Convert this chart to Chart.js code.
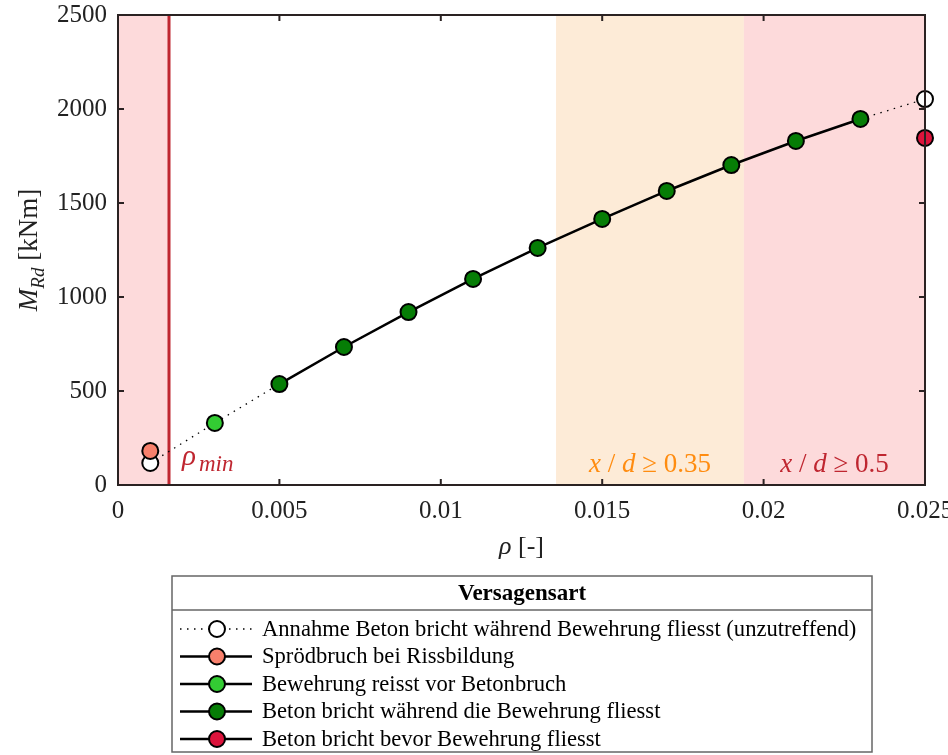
<!DOCTYPE html>
<html>
<head>
<meta charset="utf-8">
<script src="https://cdn.jsdelivr.net/npm/chart.js@4.4.0/dist/chart.umd.min.js"></script>
<style>
  html, body { margin: 0; padding: 0; background: #fff; }
  #wrap { width: 948px; height: 755px; position: relative; }
</style>
</head>
<body>
<div id="wrap"><canvas id="mrdChart"></canvas></div>
<script>
// reinforcement ratio rho [-] and moment resistance M_Rd [kNm]
const rhoAll = [0.001, 0.003, 0.005, 0.007, 0.009, 0.011, 0.013, 0.015, 0.017, 0.019, 0.021, 0.023, 0.025];
const mAssumed = [117, 330, 537, 734, 920, 1096, 1261, 1415, 1564, 1702, 1830, 1947, 2053];
const rhoYield = [0.005, 0.007, 0.009, 0.011, 0.013, 0.015, 0.017, 0.019, 0.021, 0.023];
const mYield = [537, 734, 920, 1096, 1261, 1415, 1564, 1702, 1830, 1947];
const rhoBrittle = [0.001];
const mBrittle = [181];
const rhoRupture = [0.003];
const mRupture = [330];
const rhoCrush = [0.025];
const mCrush = [1846];

const xTicks = [0, 0.005, 0.01, 0.015, 0.02, 0.025];
const yTicks = [0, 500, 1000, 1500, 2000, 2500];

// zones on the rho axis
const rhoMin = 0.00158;
const zone035 = [0.01357, 0.01939];
const zone05 = [0.01939, 0.025];

const serif = '"Liberation Serif", "Times New Roman", serif';
const frameColor = '#2a2222';
const red = '#bf2630';
const orange = '#ff8c10';

function pts(xs, ys) { return xs.map((x, i) => ({ x: x, y: ys[i] })); }

const pointStyle = (fill, r) => ({
  showLine: true,
  clip: false,
  pointRadius: r,
  pointHoverRadius: r,
  pointBackgroundColor: fill,
  pointBorderColor: '#000',
  pointBorderWidth: 2,
  borderColor: '#000',
  borderWidth: 2.5
});

const datasets = [
  Object.assign(pointStyle('#ffffff', rhoAll.map((x, i) => (i === 0 || i === rhoAll.length - 1) ? 8 : 0)), {
    label: 'Annahme Beton bricht während Bewehrung fliesst (unzutreffend)',
    data: pts(rhoAll, mAssumed),
    borderWidth: 1.3,
    borderDash: [1.5, 5.5],
    order: 5
  }),
  Object.assign(pointStyle('#f8806c', 8), {
    label: 'Sprödbruch bei Rissbildung',
    data: pts(rhoBrittle, mBrittle),
    order: 1
  }),
  Object.assign(pointStyle('#33cc33', 8), {
    label: 'Bewehrung reisst vor Betonbruch',
    data: pts(rhoRupture, mRupture),
    order: 1
  }),
  Object.assign(pointStyle('#067d06', 8), {
    label: 'Beton bricht während die Bewehrung fliesst',
    data: pts(rhoYield, mYield),
    order: 2
  }),
  Object.assign(pointStyle('#dc143c', 8), {
    label: 'Beton bricht bevor Bewehrung fliesst',
    data: pts(rhoCrush, mCrush),
    order: 1
  })
];

const zonesPlugin = {
  id: 'zones',
  beforeDatasetsDraw(chart) {
    const { ctx, chartArea: a, scales: { x } } = chart;
    ctx.save();
    ctx.fillStyle = '#fddadb';
    ctx.fillRect(a.left, a.top, x.getPixelForValue(rhoMin) - a.left, a.bottom - a.top);
    ctx.fillStyle = '#fdebd7';
    ctx.fillRect(x.getPixelForValue(zone035[0]), a.top, x.getPixelForValue(zone035[1]) - x.getPixelForValue(zone035[0]), a.bottom - a.top);
    ctx.fillStyle = '#fddadb';
    ctx.fillRect(x.getPixelForValue(zone05[0]), a.top, x.getPixelForValue(zone05[1]) - x.getPixelForValue(zone05[0]), a.bottom - a.top);
    // rho_min line
    ctx.strokeStyle = red;
    ctx.lineWidth = 3;
    ctx.beginPath();
    const xm = x.getPixelForValue(rhoMin);
    ctx.moveTo(xm, a.top);
    ctx.lineTo(xm, a.bottom);
    ctx.stroke();

    // zone labels
    ctx.textBaseline = 'alphabetic';
    ctx.fillStyle = red;
    ctx.font = 'italic 29px ' + serif;
    ctx.textAlign = 'left';
    ctx.fillText('ρ', xm + 13, a.bottom - 20);
    ctx.font = 'italic 23px ' + serif;
    ctx.fillText('min', xm + 30, a.bottom - 14);

    drawXd(ctx, (x.getPixelForValue(zone035[0]) + x.getPixelForValue(zone035[1])) / 2, a.bottom - 13, '0.35', orange);
    drawXd(ctx, (x.getPixelForValue(zone05[0]) + x.getPixelForValue(zone05[1])) / 2, a.bottom - 13, '0.5', red);
    ctx.restore();
  },
  afterDraw(chart) {
    const { ctx, chartArea: a, scales: { x, y } } = chart;
    ctx.save();
    ctx.strokeStyle = frameColor;
    ctx.lineWidth = 2;
    ctx.strokeRect(a.left, a.top, a.right - a.left, a.bottom - a.top);
    ctx.beginPath();
    xTicks.forEach(v => {
      const px = x.getPixelForValue(v);
      ctx.moveTo(px, a.bottom); ctx.lineTo(px, a.bottom - 6);
      ctx.moveTo(px, a.top); ctx.lineTo(px, a.top + 6);
    });
    yTicks.forEach(v => {
      const py = y.getPixelForValue(v);
      ctx.moveTo(a.left, py); ctx.lineTo(a.left + 6, py);
      ctx.moveTo(a.right, py); ctx.lineTo(a.right - 6, py);
    });
    ctx.stroke();

    // axis titles
    ctx.fillStyle = '#222';
    ctx.textBaseline = 'alphabetic';
    ctx.font = 'italic 26px ' + serif;
    const rw = ctx.measureText('ρ ').width;
    ctx.font = '26px ' + serif;
    const bw = ctx.measureText('[-]').width;
    let sx = (a.left + a.right) / 2 - (rw + bw) / 2;
    ctx.textAlign = 'left';
    ctx.font = 'italic 26px ' + serif;
    ctx.fillText('ρ ', sx, 554);
    ctx.font = '26px ' + serif;
    ctx.fillText('[-]', sx + rw, 554);

    ctx.save();
    ctx.translate(37, (a.top + a.bottom) / 2);
    ctx.rotate(-Math.PI / 2);
    ctx.font = 'italic 27px ' + serif;
    const mw = ctx.measureText('M').width;
    ctx.font = 'italic 19px ' + serif;
    const sw = ctx.measureText('Rd').width;
    ctx.font = '27px ' + serif;
    const kw = ctx.measureText(' [kNm]').width;
    let tx = -(mw + sw + kw) / 2;
    ctx.font = 'italic 27px ' + serif;
    ctx.fillText('M', tx, 0);
    ctx.font = 'italic 19px ' + serif;
    ctx.fillText('Rd', tx + mw, 7);
    ctx.font = '27px ' + serif;
    ctx.fillText(' [kNm]', tx + mw + sw, 0);
    ctx.restore();

    drawLegend(chart);
    ctx.restore();
  }
};

function drawXd(ctx, cx, by, val, color) {
  const parts = [['x', true], [' / ', false], ['d', true], [' ≥ ' + val, false]];
  let w = 0;
  parts.forEach(p => { ctx.font = (p[1] ? 'italic ' : '') + '27px ' + serif; w += ctx.measureText(p[0]).width; });
  let px = cx - w / 2;
  ctx.fillStyle = color;
  ctx.textAlign = 'left';
  parts.forEach(p => {
    ctx.font = (p[1] ? 'italic ' : '') + '27px ' + serif;
    ctx.fillText(p[0], px, by);
    px += ctx.measureText(p[0]).width;
  });
}

function drawLegend(chart) {
  const ctx = chart.ctx;
  const L = 172, T = 576, R = 872, B = 752, sep = 610;
  ctx.save();
  ctx.fillStyle = '#fff';
  ctx.fillRect(L, T, R - L, B - T);
  ctx.strokeStyle = '#666';
  ctx.lineWidth = 1.5;
  ctx.strokeRect(L, T, R - L, B - T);
  ctx.beginPath(); ctx.moveTo(L, sep); ctx.lineTo(R, sep); ctx.stroke();
  ctx.fillStyle = '#000';
  ctx.font = 'bold 23px ' + serif;
  ctx.textAlign = 'center';
  ctx.textBaseline = 'middle';
  ctx.fillText('Versagensart', (L + R) / 2, 594);

  chart.data.datasets.forEach((ds, i) => {
    const cy = 629 + i * 27.5;
    ctx.save();
    ctx.strokeStyle = '#000';
    ctx.lineWidth = ds.borderDash ? 1.3 : 2.5;
    ctx.setLineDash(ds.borderDash || []);
    ctx.beginPath(); ctx.moveTo(180, cy); ctx.lineTo(252, cy); ctx.stroke();
    ctx.setLineDash([]);
    ctx.beginPath();
    ctx.arc(217, cy, 8, 0, Math.PI * 2);
    ctx.fillStyle = ds.pointBackgroundColor;
    ctx.fill();
    ctx.lineWidth = 2;
    ctx.stroke();
    ctx.restore();
    ctx.fillStyle = '#000';
    ctx.font = '22.6px ' + serif;
    ctx.textAlign = 'left';
    ctx.textBaseline = 'middle';
    ctx.fillText(ds.label, 262, cy + 1);
  });
  ctx.restore();
}

new Chart(document.getElementById('mrdChart').getContext('2d'), {
  type: 'scatter',
  data: { datasets: datasets },
  options: {
    responsive: true,
    maintainAspectRatio: false,
    devicePixelRatio: 1,
    animation: false,
    layout: { padding: { top: 15, right: 23, left: 0, bottom: 0 } },
    plugins: { legend: { display: false }, tooltip: { enabled: false } },
    scales: {
      x: {
        type: 'linear',
        min: 0, max: 0.025,
        afterFit(s) { s.height = 270; s.paddingLeft = 0; s.paddingRight = 0; },
        afterBuildTicks(s) { s.ticks = xTicks.map(v => ({ value: v })); },
        grid: { display: false },
        border: { display: false },
        ticks: {
          padding: 3,
          color: '#222',
          font: { family: serif, size: 25 },
          maxRotation: 0,
          autoSkip: false,
          callback: v => String(v)
        }
      },
      y: {
        type: 'linear',
        min: 0, max: 2500,
        afterFit(s) { s.width = 118; s.paddingTop = 0; s.paddingBottom = 0; },
        afterBuildTicks(s) { s.ticks = yTicks.map(v => ({ value: v })); },
        grid: { display: false },
        border: { display: false },
        ticks: {
          padding: 3,
          color: '#222',
          font: { family: serif, size: 25 },
          callback: v => String(v)
        }
      }
    }
  },
  plugins: [zonesPlugin]
});
</script>
</body>
</html>
